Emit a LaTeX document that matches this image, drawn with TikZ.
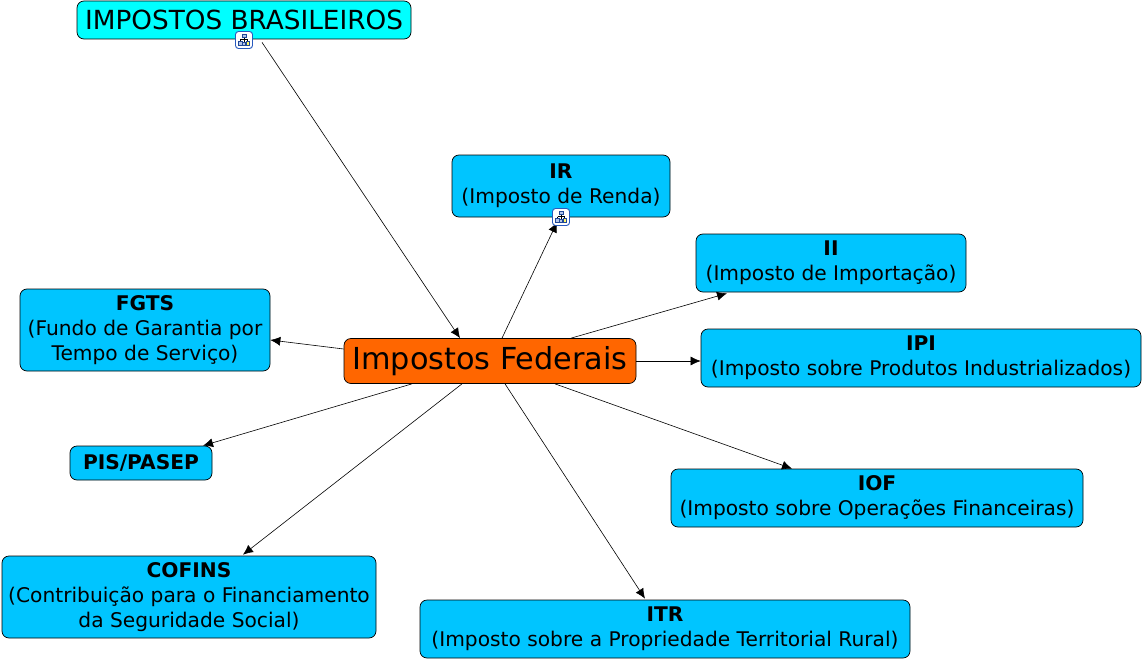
\documentclass[tikz,border=0pt]{standalone}
\usepackage{fontspec}
\setmainfont{DejaVu Sans}
\usetikzlibrary{arrows.meta,calc}
\definecolor{boxblue}{RGB}{0,197,255}
\definecolor{boxcyan}{RGB}{0,255,255}
\definecolor{boxorange}{RGB}{255,102,0}
\definecolor{iconblue}{RGB}{40,90,190}
\tikzset{
  concept/.style={draw=black,line width=0.7pt,rounded corners=7pt,fill=boxblue,align=center,inner sep=0pt,font=\fontsize{20.2}{25}\selectfont,text=black},
  link/.style={draw=black,line width=0.6pt,-{Latex[length=10pt,width=9pt]}},
  iconbox/.style={draw=iconblue,line width=0.9pt,rounded corners=3pt,fill=white,minimum width=17pt,minimum height=17pt,inner sep=0pt},
  iconpart/.style={draw=iconblue!80!black,line width=0.8pt,fill=iconblue!35},
  iconside/.style={draw=iconblue!80!black,line width=0.8pt,fill=yellow!60},
}
\newcommand{\hierarchyicon}[3]{%
  \node[iconbox] (#1) at (#2,#3) {};
  \begin{scope}[shift={(#2,#3)}]
    \draw[black,line width=0.6pt] (0,-3) -- (0,3) (-3.5,-0.5) -- (3.5,-0.5) (-3.5,-0.5) -- (-3.5,1.5) (3.5,-0.5) -- (3.5,1.5);
    \filldraw[iconpart] (-2,-6) rectangle (2,-3);
    \filldraw[iconpart] (-5.5,1.5) rectangle (-2,5.5);
    \filldraw[iconpart] (-1.2,2) rectangle (1.2,5.5);
    \filldraw[iconside] (2,1.5) rectangle (5.5,5.5);
  \end{scope}}
\begin{document}
\begin{tikzpicture}[x=1pt,y=-1pt]
\useasboundingbox (0,0) rectangle (1143,661);
\node[concept,fill=boxcyan,minimum width=334pt,minimum height=38pt,font=\fontsize{26.3}{30}\selectfont] (top) at (244,20) {IMPOSTOS BRASILEIROS};
\node[concept,fill=boxorange,minimum width=292pt,minimum height=45pt,font=\fontsize{30.3}{34}\selectfont] (fed) at (490,361) {Impostos Federais};
\node[concept,minimum width=218pt,minimum height=62pt] (ir) at (561,186) {\textbf{IR}\\(Imposto de Renda)};
\node[concept,minimum width=270pt,minimum height=58pt] (ii) at (831,263) {\textbf{II}\\(Imposto de Importação)};
\node[concept,minimum width=440pt,minimum height=58pt] (ipi) at (921,358) {\textbf{IPI}\\(Imposto sobre Produtos Industrializados)};
\node[concept,minimum width=412pt,minimum height=58pt] (iof) at (877,498) {\textbf{IOF}\\(Imposto sobre Operações Financeiras)};
\node[concept,minimum width=490pt,minimum height=58pt] (itr) at (665,629) {\textbf{ITR}\\(Imposto sobre a Propriedade Territorial Rural)};
\node[concept,minimum width=374pt,minimum height=82pt] (cofins) at (189,597) {\textbf{COFINS}\\(Contribuição para o Financiamento\\da Seguridade Social)};
\node[concept,minimum width=142pt,minimum height=34pt] (pis) at (141,463) {\textbf{PIS/PASEP}};
\node[concept,minimum width=250pt,minimum height=82pt] (fgts) at (145,330) {\textbf{FGTS}\\(Fundo de Garantia por\\Tempo de Serviço)};
\draw[link] ([xshift=18pt,yshift=-3pt]top.south) -- ([xshift=-30pt]fed.north);
\draw[link] ([xshift=12pt]fed.north) -- ([xshift=-4pt,yshift=-5pt]ir.south);
\draw[link] ([xshift=81pt]fed.north) -- ([xshift=-104pt,yshift=-1pt]ii.south);
\draw[link] (fed.east) -- ([yshift=-3pt]ipi.west);
\draw[link] ([xshift=65pt]fed.south) -- ([xshift=-85pt]iof.north);
\draw[link] ([xshift=15pt]fed.south) -- ([xshift=-20pt,yshift=1pt]itr.north);
\draw[link] ([xshift=-28pt]fed.south) -- ([xshift=54pt,yshift=1pt]cofins.north);
\draw[link] ([xshift=-78pt]fed.south) -- ([xshift=62pt]pis.north);
\draw[link] ([yshift=12pt]fed.west) -- ([yshift=-10pt]fgts.east);
\hierarchyicon{topicon}{244}{40}
\hierarchyicon{iricon}{561}{217}
\end{tikzpicture}
\end{document}
